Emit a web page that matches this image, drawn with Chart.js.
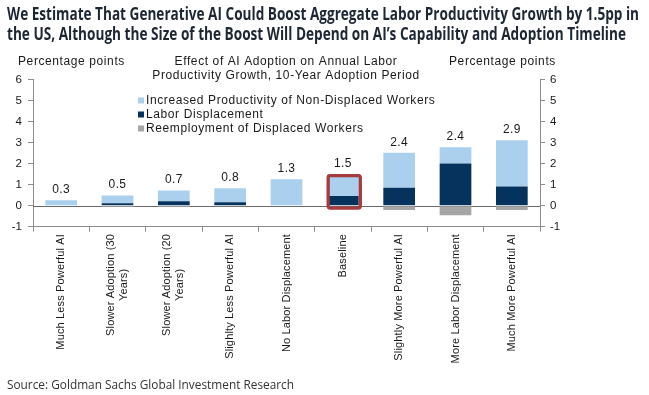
<!DOCTYPE html>
<html><head><meta charset="utf-8">
<script src="https://cdn.jsdelivr.net/npm/chart.js@4.4.0/dist/chart.umd.min.js"></script>
<style>html,body{margin:0;padding:0;background:#fff;overflow:hidden}#wrap{position:relative;width:649px;height:395px}</style>
</head><body><div id="wrap"><canvas id="c" width="649" height="395"></canvas></div>
<script>
// ---- data ----
const categories = [
  ["Much Less Powerful AI"],
  ["Slower Adoption (30", "Years)"],
  ["Slower Adoption (20", "Years)"],
  ["Slighlty Less Powerful AI"],
  ["No Labor Displacement"],
  ["Baseline"],
  ["Slightly More Powerful AI"],
  ["More Labor Displacement"],
  ["Much More Powerful AI"]
];
const productivityNonDisplaced = [0.26, 0.37, 0.51, 0.67, 1.26, 1.04, 1.67, 0.77, 2.20];
const laborDisplacement        = [0.00, 0.11, 0.21, 0.16, 0.00, 0.46, 0.85, 2.01, 0.91];
const reemployment             = [0.00, -0.06, -0.06, -0.04, 0.00, -0.03, -0.20, -0.46, -0.20];
const totalLabels = ["0.3", "0.5", "0.7", "0.8", "1.3", "1.5", "2.4", "2.4", "2.9"];
const yTicks = [-1, 0, 1, 2, 3, 4, 5, 6];
const highlightIndex = 5;
const seriesNames = ["Increased Productivity of Non-Displaced Workers", "Labor Displacement", "Reemployment of Displaced Workers"];
const titleLines = ["We Estimate That Generative AI Could Boost Aggregate Labor Productivity Growth by 1.5pp in",
                    "the US, Although the Size of the Boost Will Depend on AI\u2019s Capability and Adoption Timeline"];
const chartHeader = ["Effect of AI Adoption on Annual Labor", "Productivity Growth, 10-Year Adoption Period"];
const axisUnit = "Percentage points";
const sourceText = "Source: Goldman Sachs Global Investment Research";

// ---- styles ----
const C_LIGHT = '#aad0ee', C_DARK = '#06335d', C_GRAY = '#a6a6a6', C_RED = '#a63a3c';
const TXT = '#1a1a1a';
const AX = '#8c8c8c';
const SANS = '"Liberation Sans", Arial, sans-serif';

const setTicks = s => { s.ticks = yTicks.map(v => ({value: v})); };

const deco = {
  id: 'deco',
  beforeDatasetsDraw(chart) {
    const {ctx, chartArea: a, scales: {y}} = chart;
    const y0 = Math.round(y.getPixelForValue(0)) + 0.5;
    ctx.save();
    ctx.strokeStyle = '#6a6a6a'; ctx.lineWidth = 1;
    ctx.beginPath(); ctx.moveTo(a.left, y0); ctx.lineTo(a.right, y0); ctx.stroke();
    ctx.restore();
  },
  afterDatasetsDraw(chart) {
    const {ctx, scales: {y}} = chart;
    const mDark = chart.getDatasetMeta(0), mLight = chart.getDatasetMeta(1);
    ctx.save();
    // highlight box
    const bl = mLight.data[highlightIndex], bd = mDark.data[highlightIndex];
    const left = bl.x - bl.width / 2, right = bl.x + bl.width / 2;
    const top = bl.y, bottom = y.getPixelForValue(0);
    ctx.strokeStyle = C_RED; ctx.lineWidth = 3.3; ctx.lineJoin = 'round';
    ctx.beginPath();
    if (ctx.roundRect) ctx.roundRect(left + 1.2, top + 1.4, right - left + 0.4, bottom - top + 1, 2);
    else ctx.rect(left + 1.2, top + 1.4, right - left + 0.4, bottom - top + 1);
    ctx.stroke();
    // total labels
    ctx.fillStyle = TXT; ctx.font = '12px ' + SANS; ctx.textAlign = 'center'; ctx.textBaseline = 'middle';
    ctx.letterSpacing = '0.4px';
    totalLabels.forEach((t, i) => {
      const e = mLight.data[i];
      ctx.fillText(t, e.x, Math.min(e.y, mDark.data[i].y) - 10.5);
    });
    ctx.restore();
  },
  afterDraw(chart) {
    const {ctx, scales: {x}} = chart;
    ctx.save();
    // title
    ctx.fillStyle = '#1d2733'; ctx.textAlign = 'left'; ctx.textBaseline = 'alphabetic';
    ctx.font = 'bold 17px "Open Sans", Roboto, sans-serif';
    ctx.fillText(titleLines[0], 7, 20, 632);
    ctx.fillText(titleLines[1], 7, 40, 619);
    // source
    ctx.fillStyle = '#333'; ctx.font = '13px "Open Sans", Roboto, sans-serif';
    ctx.fillText(sourceText, 7, 389, 287);
    // unit labels & header
    ctx.fillStyle = TXT; ctx.font = '12px ' + SANS; ctx.letterSpacing = '0.6px';
    ctx.textBaseline = 'middle';
    ctx.textAlign = 'left';
    ctx.fillText(axisUnit, 18, 62);
    ctx.fillText(axisUnit, 449, 62);
    ctx.textAlign = 'center';
    ctx.fillText(chartHeader[0], 286, 62);
    ctx.fillText(chartHeader[1], 286, 76);
    // legend
    const legendItems = [[seriesNames[0], C_LIGHT], [seriesNames[1], C_DARK], [seriesNames[2], C_GRAY]];
    const ly = [100.5, 114.5, 128.5];
    ctx.textAlign = 'left';
    legendItems.forEach(([name, col], i) => {
      ctx.fillStyle = col; ctx.fillRect(138, ly[i] - 3, 6, 6);
      ctx.fillStyle = TXT; ctx.fillText(name, 146, ly[i]);
    });
    // x category labels (rotated)
    ctx.font = '11px ' + SANS; ctx.letterSpacing = '0.15px';
    ctx.fillStyle = TXT; ctx.textAlign = 'center'; ctx.textBaseline = 'middle';
    const topY = 234, lh = 13;
    categories.forEach((lines, i) => {
      const cx = x.getPixelForValue(i);
      const w = Math.max(...lines.map(l => ctx.measureText(l).width));
      ctx.save();
      ctx.translate(cx, topY + w / 2);
      ctx.rotate(-Math.PI / 2);
      lines.forEach((l, k) => ctx.fillText(l, 0, (k - (lines.length - 1) / 2) * lh));
      ctx.restore();
    });
    ctx.restore();
  }
};

const yCommon = {
  type: 'linear', stacked: true, min: -1, max: 6,
  afterBuildTicks: setTicks,
  grid: {drawOnChartArea: false, drawTicks: true, tickLength: 5, tickColor: AX},
  border: {display: true, color: AX},
  ticks: {color: TXT, font: {family: SANS, size: 11.5}}
};

new Chart(document.getElementById('c'), {
  type: 'bar',
  data: {
    labels: categories.map(c => c.join(' ')),
    datasets: [
      {label: seriesNames[1], data: laborDisplacement, backgroundColor: C_DARK},
      {label: seriesNames[0], data: productivityNonDisplaced, backgroundColor: C_LIGHT},
      {label: seriesNames[2], data: reemployment, backgroundColor: C_GRAY}
    ]
  },
  options: {
    responsive: false, animation: false, devicePixelRatio: 1,
    datasets: {bar: {barPercentage: 0.563, categoryPercentage: 1, borderWidth: 0}},
    layout: {padding: {top: 79.6, left: 0, right: 0, bottom: 0}},
    plugins: {legend: {display: false}, tooltip: {enabled: false}, title: {display: false}},
    scales: {
      x: {
        stacked: true, offset: true,
        grid: {offset: true, drawOnChartArea: false, drawTicks: true, tickLength: 5, tickColor: AX},
        border: {display: true, color: AX},
        ticks: {display: false},
        afterFit(s) { s.height = 168.3; }
      },
      y: Object.assign({}, yCommon, {position: 'left',
        ticks: Object.assign({}, yCommon.ticks, {padding: 6}),
        afterFit(s) { s.width = 33; }}),
      y2: Object.assign({}, yCommon, {position: 'right',
        ticks: Object.assign({}, yCommon.ticks, {padding: 5}),
        afterFit(s) { s.width = 109; }})
    }
  },
  plugins: [deco]
});
</script>
</body></html>
